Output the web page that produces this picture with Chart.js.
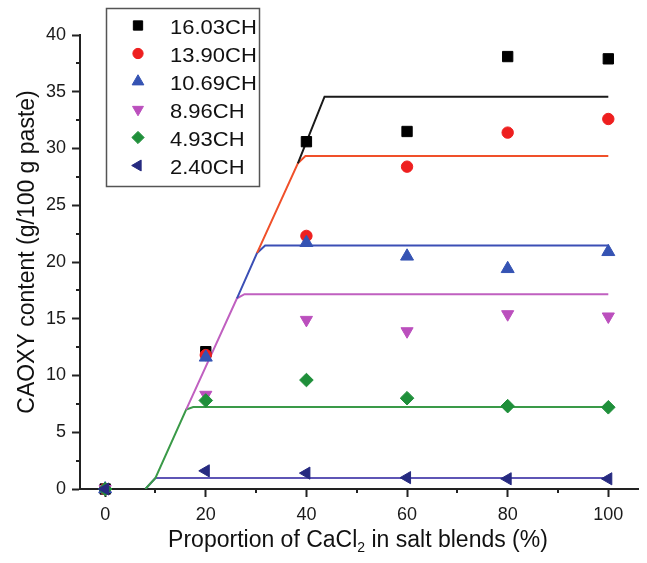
<!DOCTYPE html>
<html>
<head>
<meta charset="utf-8">
<script src="https://cdn.jsdelivr.net/npm/chart.js@4.4.1/dist/chart.umd.min.js"></script>
<style>
  html, body { margin: 0; padding: 0; background: #ffffff; }
  #wrap { width: 647px; height: 563px; }
</style>
</head>
<body>
<div id="wrap"><canvas id="c" width="647" height="563"></canvas></div>
<script>
const FONT = '"Liberation Sans", Arial, Helvetica, sans-serif';

// Proportion of CaCl2 in the salt blend (%)
const proportion = [0, 20, 40, 60, 80, 100];

// Measured CAOXY content (g/100 g paste) for each CH level
const seriesLabels = ['16.03CH', '13.90CH', '10.69CH', '8.96CH', '4.93CH', '2.40CH'];
const caoxy1603 = [0, 12.1, 30.6, 31.5, 38.1, 37.9];
const caoxy1390 = [0, 11.8, 22.3, 28.4, 31.4, 32.6];
const caoxy1069 = [0, 11.6, 21.7, 20.5, 19.4, 20.9];
const caoxy896  = [0, 8.3, 14.9, 13.9, 15.4, 15.2];
const caoxy493  = [0, 7.8, 9.6, 8.0, 7.3, 7.2];
const caoxy240  = [0, 1.6, 1.4, 1.0, 0.9, 0.9];

// Calculated curves: rising branch then plateau (vertices)
const calc1603X = [38.3, 43.6, 100];
const calc1603Y = [28.7, 34.56, 34.56];
const calc1390X = [30.2, 38.3, 39.8, 100];
const calc1390Y = [20.8, 28.7, 29.34, 29.34];
const calc1069X = [26.2, 30.2, 31.8, 100];
const calc1069Y = [16.8, 20.8, 21.45, 21.45];
const calc896X  = [16.1, 26.2, 27.7, 100];
const calc896Y  = [7.0, 16.8, 17.16, 17.16];
const calc493X  = [8, 10, 16.1, 17.5, 100];
const calc493Y  = [0, 0.97, 7.0, 7.22, 7.22];
const calc240X  = [8, 10, 100];
const calc240Y  = [0, 0.97, 0.97];

// Axis ticks
const xTicks = [0, 20, 40, 60, 80, 100];
const xMinorTicks = [10, 30, 50, 70, 90];
const yTicks = [0, 5, 10, 15, 20, 25, 30, 35, 40];
const yMinorTicks = [2.5, 7.5, 12.5, 17.5, 22.5, 27.5, 32.5, 37.5];

const measured = [caoxy1603, caoxy1390, caoxy1069, caoxy896, caoxy493, caoxy240];
const calcX = [calc1603X, calc1390X, calc1069X, calc896X, calc493X, calc240X];
const calcY = [calc1603Y, calc1390Y, calc1069Y, calc896Y, calc493Y, calc240Y];

// Marker and line styling per series
const markerColors = ['#000000', '#ee1f1f', '#3553b3', '#bb4fbd', '#1f8f3a', '#262a80'];
const lineColors   = ['#1a1a1a', '#f0502a', '#3b4fb5', '#c060c0', '#3a9a48', '#5e55b5'];
const markerStyles = ['rect', 'circle', 'triangle', 'triangle', 'rectRot', 'triangle'];
const markerRotation = [0, 0, 0, 180, 0, 270];
const markerRadius = [7.3, 5.7, 7.5, 7, 6.8, 7];

const zip = (xs, ys) => xs.map((x, i) => ({ x: x, y: ys[i] }));

const datasets = [];
measured.forEach((vals, i) => {
  datasets.push({
    label: seriesLabels[i],
    data: zip(proportion, vals),
    showLine: false,
    pointStyle: markerStyles[i],
    rotation: markerRotation[i],
    pointRadius: markerRadius[i],
    backgroundColor: markerColors[i],
    borderColor: markerColors[i],
    pointBorderWidth: 1,
    clip: false,
    order: 1 + (measured.length - 1 - i)   // later series drawn on top
  });
});
calcX.forEach((xs, i) => {
  datasets.push({
    label: seriesLabels[i] + ' calc',
    data: zip(xs, calcY[i]),
    showLine: true,
    pointRadius: 0,
    borderColor: lineColors[i],
    backgroundColor: lineColors[i],
    borderWidth: 2,
    tension: 0,
    fill: false,
    order: 10 + i                            // lower plateau drawn on top
  });
});

// Minor ticks, axis titles and the boxed legend
const decorPlugin = {
  id: 'decor',
  afterDraw(chart) {
    const ctx = chart.ctx;
    const xs = chart.scales.x, ys = chart.scales.y;
    const area = chart.chartArea;
    ctx.save();
    ctx.strokeStyle = '#222';
    ctx.lineWidth = 2;
    ctx.beginPath();
    xMinorTicks.forEach(v => {
      const px = Math.round(xs.getPixelForValue(v));
      ctx.moveTo(px, area.bottom);
      ctx.lineTo(px, area.bottom + 4);
    });
    yMinorTicks.forEach(v => {
      const py = Math.round(ys.getPixelForValue(v));
      ctx.moveTo(area.left, py);
      ctx.lineTo(area.left - 4, py);
    });
    ctx.stroke();

    // axis titles
    ctx.fillStyle = '#111';
    ctx.textBaseline = 'alphabetic';
    ctx.font = '23px ' + FONT;
    const partA = 'Proportion of CaCl';
    const partSub = '2';
    const partB = ' in salt blends (%)';
    const wA = ctx.measureText(partA).width;
    const wB = ctx.measureText(partB).width;
    ctx.font = '14px ' + FONT;
    const wS = ctx.measureText(partSub).width;
    const total = wA + wS + wB;
    const tx = 358 - total / 2;
    const baseY = 547;
    ctx.font = '23px ' + FONT;
    ctx.textAlign = 'left';
    ctx.fillText(partA, tx, baseY);
    ctx.font = '14px ' + FONT;
    ctx.fillText(partSub, tx + wA, baseY + 5);
    ctx.font = '23px ' + FONT;
    ctx.fillText(partB, tx + wA + wS, baseY);

    ctx.save();
    ctx.translate(34, 252);
    ctx.rotate(-Math.PI / 2);
    ctx.font = '23px ' + FONT;
    ctx.textAlign = 'center';
    ctx.fillText('CAOXY content (g/100 g paste)', 0, 0);
    ctx.restore();

    // legend box
    ctx.fillStyle = '#ffffff';
    ctx.fillRect(107, 9, 152, 177);
    ctx.strokeStyle = '#555';
    ctx.lineWidth = 1.5;
    ctx.strokeRect(106.5, 8.5, 153, 178);
    seriesLabels.forEach((lab, i) => {
      const base = 34 + i * 28;
      const my = base - 8.5;
      ctx.fillStyle = markerColors[i];
      ctx.strokeStyle = markerColors[i];
      ctx.lineWidth = 1;
      Chart.helpers.drawPoint(ctx, {
        pointStyle: markerStyles[i],
        rotation: markerRotation[i],
        radius: markerRadius[i] * 0.9,
        borderWidth: 1
      }, 138, my);
      ctx.save();
      ctx.translate(170, base);
      ctx.scale(1.1, 1);
      ctx.fillStyle = '#111';
      ctx.font = '20px ' + FONT;
      ctx.textAlign = 'left';
      ctx.textBaseline = 'alphabetic';
      ctx.fillText(lab, 0, 0);
      ctx.restore();
    });
    ctx.restore();
  }
};

Chart.defaults.font.family = FONT;

new Chart(document.getElementById('c'), {
  type: 'scatter',
  data: { datasets: datasets },
  options: {
    responsive: false,
    animation: false,
    devicePixelRatio: 1,
    layout: { padding: { top: 35, right: 0, left: 0, bottom: 0 } },
    plugins: {
      legend: { display: false },
      tooltip: { enabled: false },
      title: { display: false }
    },
    scales: {
      x: {
        type: 'linear',
        min: -5,
        max: 106,
        afterBuildTicks: s => { s.ticks = xTicks.map(v => ({ value: v })); },
        afterFit: s => { s.height = 74; },
        grid: { drawOnChartArea: false, drawTicks: true, tickLength: 8, tickWidth: 2, tickColor: '#222' },
        border: { display: true, color: '#222', width: 2 },
        ticks: { color: '#1a1a1a', font: { size: 18 }, padding: 7, maxRotation: 0, autoSkip: false, callback: v => String(v) }
      },
      y: {
        type: 'linear',
        min: 0,
        max: 40,
        afterBuildTicks: s => { s.ticks = yTicks.map(v => ({ value: v })); },
        afterFit: s => { s.width = 80; },
        grid: { drawOnChartArea: false, drawTicks: true, tickLength: 8, tickWidth: 2, tickColor: '#222' },
        border: { display: true, color: '#222', width: 2 },
        ticks: { color: '#1a1a1a', font: { size: 18 }, padding: 6, autoSkip: false, callback: v => String(v) }
      }
    }
  },
  plugins: [decorPlugin]
});
</script>
</body>
</html>
